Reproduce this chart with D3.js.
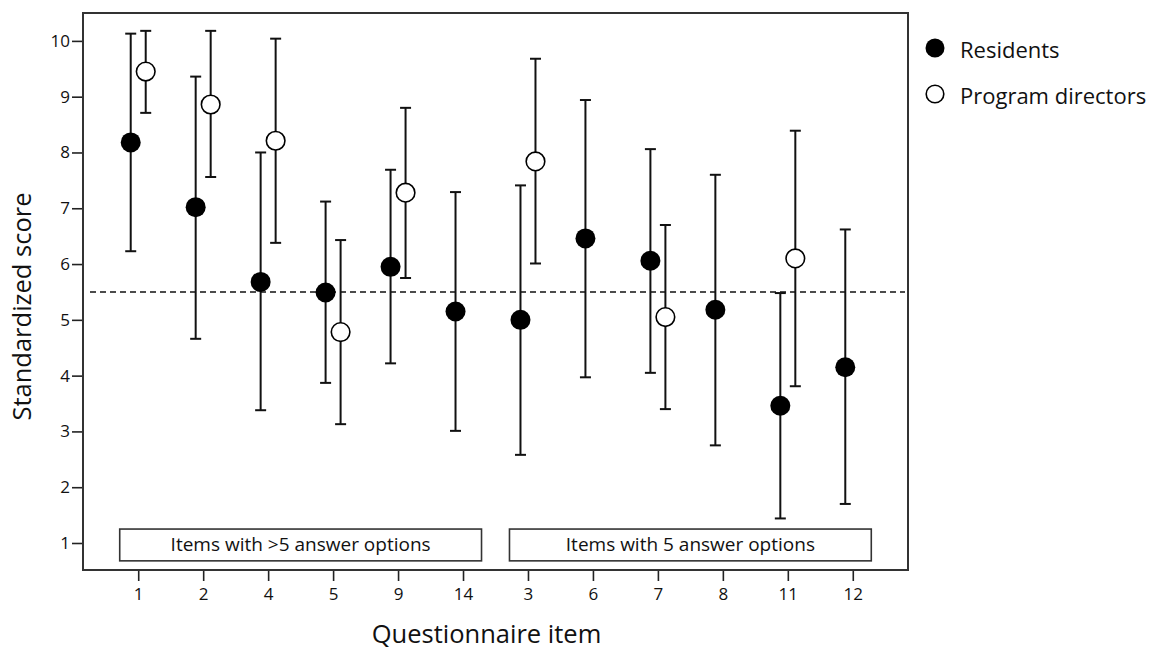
<!DOCTYPE html>
<html><head><meta charset="utf-8">
<script src="https://cdn.jsdelivr.net/npm/d3@7"></script>
<style>body{margin:0;background:#fff}</style>
</head><body>
<script>
const categories = ["1","2","4","5","9","14","3","6","7","8","11","12"];
const residentsMean  = [8.18, 7.02, 5.68, 5.49, 5.95, 5.15, 5.00, 6.46, 6.06, 5.18, 3.46, 4.15];
const residentsLower = [6.23, 4.66, 3.38, 3.87, 4.22, 3.01, 2.58, 3.97, 4.05, 2.75, 1.44, 1.70];
const residentsUpper = [10.13, 9.36, 8.00, 7.12, 7.69, 7.29, 7.41, 8.94, 8.06, 7.60, 5.48, 6.62];
const directorsMean  = [9.45, 8.86, 8.21, 4.78, 7.28, null, 7.84, null, 5.05, null, 6.10, null];
const directorsLower = [8.71, 7.56, 6.38, 3.13, 5.75, null, 6.01, null, 3.40, null, 3.81, null];
const directorsUpper = [10.18, 10.18, 10.04, 6.43, 8.80, null, 9.68, null, 6.70, null, 8.39, null];
const yTicks = [1,2,3,4,5,6,7,8,9,10];
const referenceLine = 5.5;
const groups = [
  {label: "Items with >5 answer options", first: "1", last: "14"},
  {label: "Items with 5 answer options", first: "3", last: "12"}
];
const seriesNames = ["Residents", "Program directors"];

const W = 1149, H = 649;
const L = 83, R = 908, T = 13, B = 570;
const font = "'Open Sans', sans-serif";

const svg = d3.select("body").append("svg").attr("width", W).attr("height", H);

const x = d3.scalePoint().domain(categories).range([L, R]).padding(0.85);
const y = d3.scaleLinear().domain([0.516, 10.5]).range([B, T]);
const off = 7.5;

// y axis
const yAxis = svg.append("g").attr("transform", `translate(${L},0)`)
  .call(d3.axisLeft(y).tickValues(yTicks).tickSize(11).tickPadding(2).tickFormat(d3.format("d")));
yAxis.select(".domain").remove();
yAxis.selectAll("line").attr("stroke", "#222").attr("stroke-width", 1.6);
yAxis.selectAll("text").attr("font-family", font).attr("font-size", 17).attr("fill", "#111");

// x axis
const xAxis = svg.append("g").attr("transform", `translate(0,${B})`)
  .call(d3.axisBottom(x).tickSize(11).tickPadding(7));
xAxis.select(".domain").remove();
xAxis.selectAll("line").attr("stroke", "#222").attr("stroke-width", 1.6);
xAxis.selectAll("text").attr("font-family", font).attr("font-size", 17).attr("fill", "#111");

// frame
svg.append("rect").attr("x", L).attr("y", T).attr("width", R - L).attr("height", B - T)
  .attr("fill", "none").attr("stroke", "#333").attr("stroke-width", 2);

// reference line
svg.append("line").attr("x1", L + 7).attr("x2", R - 3)
  .attr("y1", y(referenceLine)).attr("y2", y(referenceLine))
  .attr("stroke", "#111").attr("stroke-width", 1.5).attr("stroke-dasharray", "6,4");

// group boxes
groups.forEach(g => {
  const x0 = x(g.first) - 18.5, x1 = x(g.last) + 18.5;
  const yTop = y(1.25), yBot = y(0.68);
  svg.append("rect").attr("x", x0).attr("y", yTop).attr("width", x1 - x0).attr("height", yBot - yTop)
    .attr("fill", "#fff").attr("stroke", "#333").attr("stroke-width", 1.6);
  svg.append("text").attr("x", (x0 + x1) / 2).attr("y", (yTop + yBot) / 2 + 6.5)
    .attr("text-anchor", "middle").attr("font-family", font).attr("font-size", 19).attr("fill", "#111")
    .text(g.label);
});

function drawSeries(means, lows, highs, dx, filled) {
  const data = categories.map((c, i) => ({c, m: means[i], lo: lows[i], hi: highs[i]})).filter(d => d.m != null);
  const g = svg.append("g");
  const cap = 5.5;
  data.forEach(d => {
    const cx = x(d.c) + dx;
    g.append("line").attr("x1", cx).attr("x2", cx).attr("y1", y(d.lo)).attr("y2", y(d.hi))
      .attr("stroke", "#111").attr("stroke-width", 2);
    [d.lo, d.hi].forEach(v => g.append("line").attr("x1", cx - cap).attr("x2", cx + cap)
      .attr("y1", y(v)).attr("y2", y(v)).attr("stroke", "#111").attr("stroke-width", 2));
  });
  g.selectAll("circle").data(data).join("circle")
    .attr("cx", d => x(d.c) + dx).attr("cy", d => y(d.m))
    .attr("r", filled ? 10 : 9.3)
    .attr("fill", filled ? "#000" : "#fff").attr("stroke", "#000").attr("stroke-width", filled ? 0 : 1.6);
}
drawSeries(residentsMean, residentsLower, residentsUpper, -off, true);
drawSeries(directorsMean, directorsLower, directorsUpper, off, false);

// legend
const lg = svg.append("g");
seriesNames.forEach((name, i) => {
  const ly = 48 + i * 46;
  lg.append("circle").attr("cx", 935).attr("cy", ly).attr("r", i === 0 ? 9.5 : 8.8)
    .attr("fill", i === 0 ? "#000" : "#fff").attr("stroke", "#000").attr("stroke-width", i === 0 ? 0 : 1.6);
  lg.append("text").attr("x", 960).attr("y", ly + 10).attr("font-family", font).attr("font-size", 22)
    .attr("fill", "#111").text(name);
});

// axis titles
svg.append("text").attr("x", 486.5).attr("y", 643).attr("text-anchor", "middle")
  .attr("font-family", font).attr("font-size", 25.5).attr("fill", "#111").text("Questionnaire item");
svg.append("text").attr("transform", `translate(31,306.5) rotate(-90)`).attr("text-anchor", "middle")
  .attr("font-family", font).attr("font-size", 25.5).attr("fill", "#111").text("Standardized score");
</script>
</body></html>
